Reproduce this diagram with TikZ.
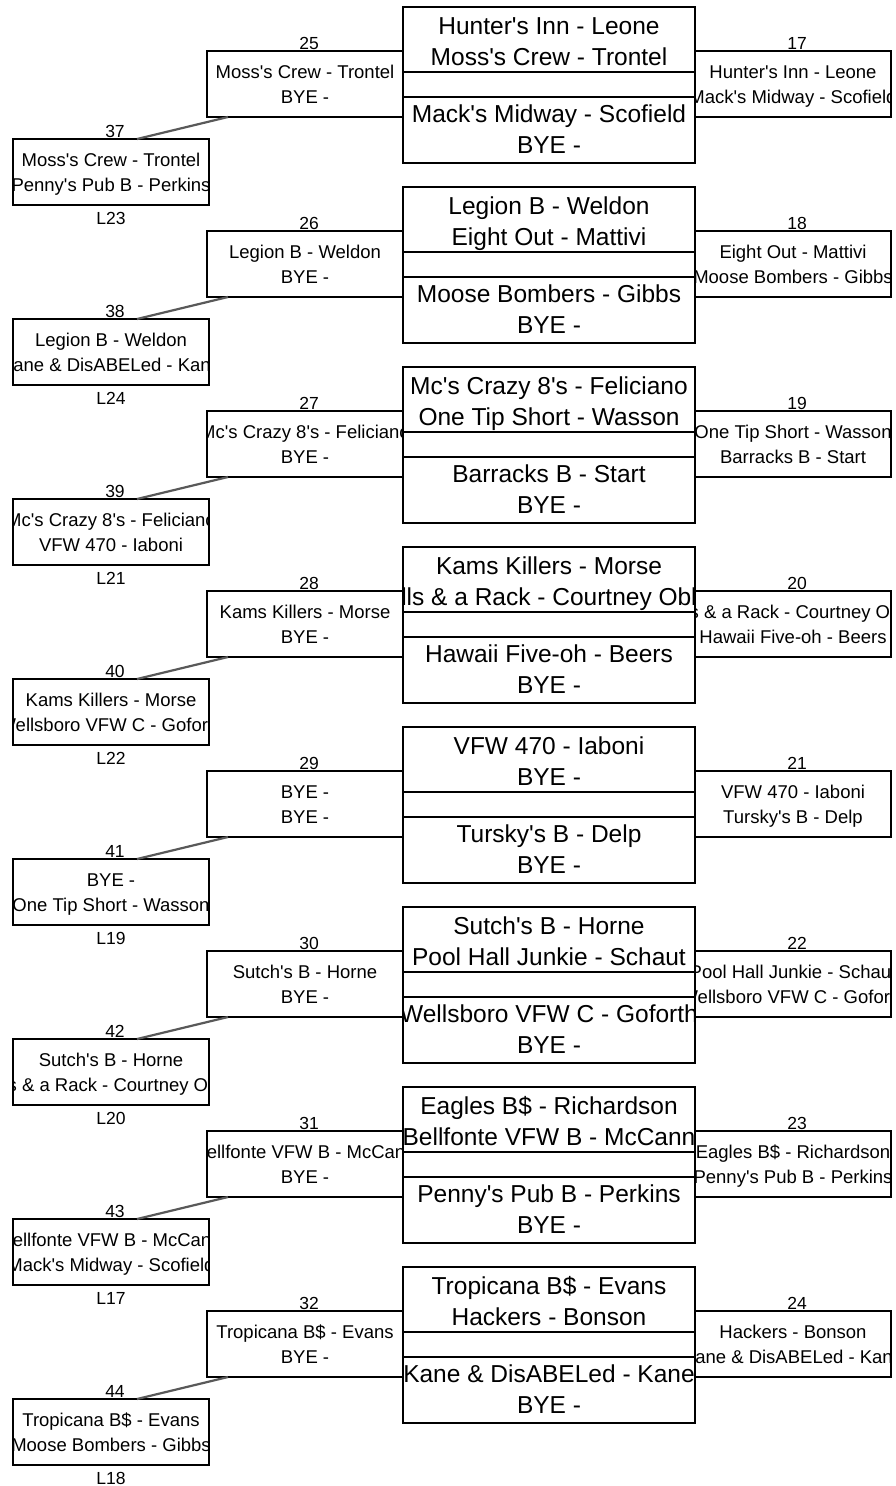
\documentclass[tikz,border=0pt]{standalone}
\usepackage{fontspec}
\newfontfamily\bracketfont{Liberation Sans}
\usepackage{tikz}
\usetikzlibrary{calc}

\tikzset{
  box/.style={draw, line width=2.8pt, rectangle, inner sep=0pt, outer sep=0pt},
  mainbox/.style={box, minimum width=292pt, minimum height=66pt},
  midbox/.style={box, minimum width=292pt, minimum height=25pt},
  sidebox/.style={box, minimum width=196pt, minimum height=66pt},
  bigtext/.style={font=\bracketfont\fontsize{24.5}{32}\selectfont, anchor=base, inner sep=0pt},
  smalltext/.style={font=\bracketfont\fontsize{18.5}{25}\selectfont, anchor=base, inner sep=0pt},
  numlabel/.style={font=\bracketfont\fontsize{17.5}{20}\selectfont, anchor=base, inner sep=0pt},
  link/.style={draw=black!65, line width=2.2pt},
}

% centre match: block, four team lines
\newcommand{\mainmatch}[5]{%
  \node[mainbox, anchor=north west, minimum height=65pt,
    path picture={
      \node[bigtext] at ([yshift=-27pt]path picture bounding box.north) {#2};
      \node[bigtext] at ([yshift=-58pt]path picture bounding box.north) {#3};
    }] (a#1) at (403,{7+180*#1}) {};
  \node[midbox, anchor=north] (m#1) at (a#1.south) {};
  \node[mainbox, anchor=north,
    path picture={
      \node[bigtext] at ([yshift=-25pt]path picture bounding box.north) {#4};
      \node[bigtext] at ([yshift=-56pt]path picture bounding box.north) {#5};
    }] (b#1) at (m#1.south) {};
}

% side match: name, x, y, game number, two team lines
\newcommand{\sidematch}[6]{%
  \node[sidebox, anchor=north west,
    path picture={
      \node[smalltext] at ([yshift=-27pt]path picture bounding box.north) {#5};
      \node[smalltext] at ([yshift=-52pt]path picture bounding box.north) {#6};
    }] (#1) at (#2,#3) {};
  \node[numlabel] (#1n) at ([xshift=4pt,yshift=1.5pt]#1.north) {#4};
}

\begin{document}
\begin{tikzpicture}[x=1pt,y=-1pt]
  \useasboundingbox (0,0) rectangle (895,1486);

  % block 1
  \mainmatch{0}{Hunter's Inn - Leone}{Moss's Crew - Trontel}{Mack's Midway - Scofield}{BYE -}
  \sidematch{w0}{207}{51}{25}{Moss's Crew - Trontel}{BYE -}
  \sidematch{e0}{695}{51}{17}{Hunter's Inn - Leone}{Mack's Midway - Scofield}
  \sidematch{s0}{13}{139}{37}{Moss's Crew - Trontel}{Penny's Pub B - Perkins}
  \node[numlabel] (s0l) at ([yshift=-19pt]s0.south) {L23};
  \draw[link] ([xshift=21pt]w0.south west) -- ([xshift=124pt]s0.north west);

  % block 2
  \mainmatch{1}{Legion B - Weldon}{Eight Out - Mattivi}{Moose Bombers - Gibbs}{BYE -}
  \sidematch{w1}{207}{231}{26}{Legion B - Weldon}{BYE -}
  \sidematch{e1}{695}{231}{18}{Eight Out - Mattivi}{Moose Bombers - Gibbs}
  \sidematch{s1}{13}{319}{38}{Legion B - Weldon}{Kane \& DisABELed - Kane}
  \node[numlabel] (s1l) at ([yshift=-19pt]s1.south) {L24};
  \draw[link] ([xshift=21pt]w1.south west) -- ([xshift=124pt]s1.north west);

  % block 3
  \mainmatch{2}{Mc's Crazy 8's - Feliciano}{One Tip Short - Wasson}{Barracks B - Start}{BYE -}
  \sidematch{w2}{207}{411}{27}{Mc's Crazy 8's - Feliciano}{BYE -}
  \sidematch{e2}{695}{411}{19}{One Tip Short - Wasson}{Barracks B - Start}
  \sidematch{s2}{13}{499}{39}{Mc's Crazy 8's - Feliciano}{VFW 470 - Iaboni}
  \node[numlabel] (s2l) at ([yshift=-19pt]s2.south) {L21};
  \draw[link] ([xshift=21pt]w2.south west) -- ([xshift=124pt]s2.north west);

  % block 4
  \mainmatch{3}{Kams Killers - Morse}{lls \& a Rack - Courtney Obl}{Hawaii Five-oh - Beers}{BYE -}
  \sidematch{w3}{207}{591}{28}{Kams Killers - Morse}{BYE -}
  \sidematch{e3}{695}{591}{20}{lls \& a Rack - Courtney Obl}{Hawaii Five-oh - Beers}
  \sidematch{s3}{13}{679}{40}{Kams Killers - Morse}{Wellsboro VFW C - Goforth}
  \node[numlabel] (s3l) at ([yshift=-19pt]s3.south) {L22};
  \draw[link] ([xshift=21pt]w3.south west) -- ([xshift=124pt]s3.north west);

  % block 5
  \mainmatch{4}{VFW 470 - Iaboni}{BYE -}{Tursky's B - Delp}{BYE -}
  \sidematch{w4}{207}{771}{29}{BYE -}{BYE -}
  \sidematch{e4}{695}{771}{21}{VFW 470 - Iaboni}{Tursky's B - Delp}
  \sidematch{s4}{13}{859}{41}{BYE -}{One Tip Short - Wasson}
  \node[numlabel] (s4l) at ([yshift=-19pt]s4.south) {L19};
  \draw[link] ([xshift=21pt]w4.south west) -- ([xshift=124pt]s4.north west);

  % block 6
  \mainmatch{5}{Sutch's B - Horne}{Pool Hall Junkie - Schaut}{Wellsboro VFW C - Goforth}{BYE -}
  \sidematch{w5}{207}{951}{30}{Sutch's B - Horne}{BYE -}
  \sidematch{e5}{695}{951}{22}{Pool Hall Junkie - Schaut}{Wellsboro VFW C - Goforth}
  \sidematch{s5}{13}{1039}{42}{Sutch's B - Horne}{lls \& a Rack - Courtney Obl}
  \node[numlabel] (s5l) at ([yshift=-19pt]s5.south) {L20};
  \draw[link] ([xshift=21pt]w5.south west) -- ([xshift=124pt]s5.north west);

  % block 7
  \mainmatch{6}{Eagles B\$ - Richardson}{Bellfonte VFW B - McCann}{Penny's Pub B - Perkins}{BYE -}
  \sidematch{w6}{207}{1131}{31}{Bellfonte VFW B - McCann}{BYE -}
  \sidematch{e6}{695}{1131}{23}{Eagles B\$ - Richardson}{Penny's Pub B - Perkins}
  \sidematch{s6}{13}{1219}{43}{Bellfonte VFW B - McCann}{Mack's Midway - Scofield}
  \node[numlabel] (s6l) at ([yshift=-19pt]s6.south) {L17};
  \draw[link] ([xshift=21pt]w6.south west) -- ([xshift=124pt]s6.north west);

  % block 8
  \mainmatch{7}{Tropicana B\$ - Evans}{Hackers - Bonson}{Kane \& DisABELed - Kane}{BYE -}
  \sidematch{w7}{207}{1311}{32}{Tropicana B\$ - Evans}{BYE -}
  \sidematch{e7}{695}{1311}{24}{Hackers - Bonson}{Kane \& DisABELed - Kane}
  \sidematch{s7}{13}{1399}{44}{Tropicana B\$ - Evans}{Moose Bombers - Gibbs}
  \node[numlabel] (s7l) at ([yshift=-19pt]s7.south) {L18};
  \draw[link] ([xshift=21pt]w7.south west) -- ([xshift=124pt]s7.north west);
\end{tikzpicture}
\end{document}
